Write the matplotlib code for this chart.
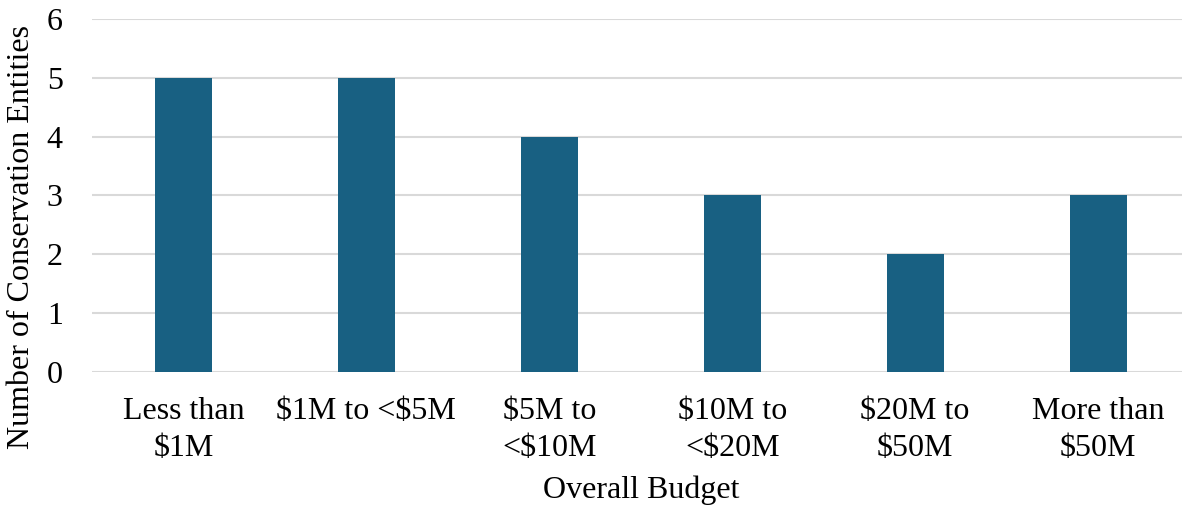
import matplotlib.pyplot as plt

categories = ["Less than\n$1M", "$1M to <$5M", "$5M to\n<$10M", "$10M to\n<$20M", "$20M to\n$50M", "More than\n$50M"]
counts = [5, 5, 4, 3, 2, 3]

plt.rcParams['font.family'] = ['Liberation Serif', 'DejaVu Serif']
plt.rcParams['text.parse_math'] = False

W, H = 1182, 508
fig = plt.figure(figsize=(W / 100, H / 100), dpi=100)
ax = fig.add_axes([92 / W, 136 / H, 1097.5 / W, 353 / H])

x = range(len(categories))
ax.bar(x, counts, width=0.312, color='#186082', zorder=3)

ax.set_xlim(-0.5, 5.5)
ax.set_ylim(0, 6)
ax.set_yticks(range(7))
ax.yaxis.grid(True, color='#d9d9d9', linewidth=1.5, zorder=0)
ax.set_xticks(list(x))
ax.set_xticklabels(categories, linespacing=1.35)

for s in ax.spines.values():
    s.set_visible(False)
ax.tick_params(axis='both', length=0, labelsize=23)
ax.tick_params(axis='y', pad=21)
ax.tick_params(axis='x', pad=18)

fig.text(641 / W, 1 - 490 / H, "Overall Budget", fontsize=23, ha='center', va='center')
fig.text(22 / W, 1 - 237 / H, "Number of Conservation Entities", fontsize=23,
         rotation=90, ha='center', va='center')

fig.savefig("out.png", dpi=100)
